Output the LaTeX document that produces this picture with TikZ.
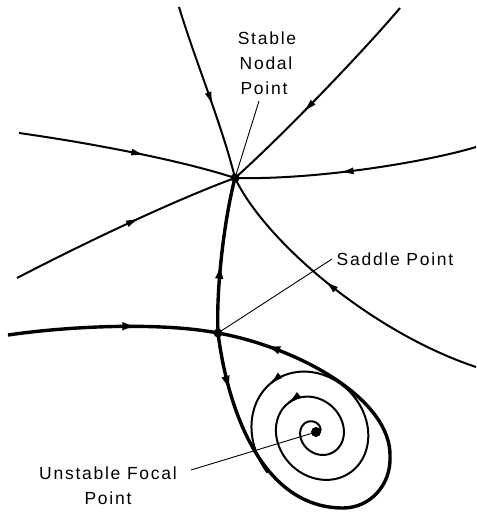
\documentclass[tikz,border=0pt]{standalone}
\usepackage{fontspec}
\newfontfamily\lblfont{Liberation Sans}[LetterSpace=10]
\usetikzlibrary{arrows.meta,decorations.markings}
\begin{document}
\begin{tikzpicture}[x=1pt,y=-1pt,
  hd/.tip={Latex[length=14pt,width=7pt]},
  bighd/.tip={Latex[length=16pt,width=8.5pt]},
  traj/.style={line width=2pt},
  thick traj/.style={line width=3.4pt},
  leader/.style={line width=0.9pt},
  midarrow/.style={postaction={decorate},decoration={markings,mark=at position #1 with {\arrow{hd}}}},
  bigmidarrow/.style={postaction={decorate},decoration={markings,mark=at position #1 with {\arrow{bighd}}}},
  dot/.style={circle,fill=black,inner sep=0pt,minimum size=#1},
  lbl/.style={font=\lblfont\fontsize{17.5}{25}\selectfont,inner sep=0pt,anchor=base}
]
\useasboundingbox (0,0) rectangle (476,516);
% fixed points
\node[dot=9pt] (N) at (235,178) {};
\node[dot=9pt] (S) at (218,333) {};
\node[dot=10pt] (F) at (316,432) {};
% free ends
\coordinate (e1) at (179,7);
\coordinate (e2) at (400,8);
\coordinate (e3) at (476,147);
\coordinate (e4) at (19,133);
\coordinate (e5) at (17,278);
\coordinate (e6) at (476,367);
\coordinate (e7) at (8,335);
% trajectories into the stable node
\draw[traj,midarrow=0.58] (e1) .. controls (195,60) and (222,125) .. (N.center);
\draw[traj,midarrow=0.6] (e2) .. controls (361,54) and (280,138) .. (N.center);
\draw[traj,midarrow=0.57] (e3) .. controls (430,161) and (320,180) .. (N.center);
\draw[traj,midarrow=0.58] (e4) .. controls (90,143) and (180,160) .. (N.center);
\draw[traj,midarrow=0.57] (e5) .. controls (90,240) and (180,198) .. (N.center);
\draw[traj,midarrow=0.56] (e6) .. controls (371,332) and (265,241) .. (N.center);
% separatrices of the saddle
\draw[thick traj,bigmidarrow=0.45] (S.center) .. controls (216,290) and (224,220) .. (N.center);
\draw[thick traj,bigmidarrow=0.62] (e7) .. controls (70,326) and (160,322) .. (S.center);
\coordinate (B) at (343,508);
\coordinate (R) at (390,457);
\draw[thick traj,postaction={decorate},decoration={markings,
    mark=at position 60pt with {\arrow{bighd}},
    mark=at position -48pt with {\arrow{bighd}}}]
  (S.center) .. controls (228,412) and (263,508) .. (B)
  .. controls (370,508) and (391,485) .. (R)
  .. controls (392,400) and (300,348) .. (S.center);
% spiral from the unstable focus
\draw[traj] plot[domain=0:990,samples=500,variable=\t]
  ({316+\t/360*(26.5*cos(\t)*0.643+23*sin(\t)*0.766)},{432+\t/360*(26.5*cos(\t)*0.766-23*sin(\t)*0.643)});
\foreach \a in {545,905}{
  \draw[traj,-{hd}] plot[domain=\a-14:\a,samples=10,variable=\t]
  ({316+\t/360*(26.5*cos(\t)*0.643+23*sin(\t)*0.766)},{432+\t/360*(26.5*cos(\t)*0.766-23*sin(\t)*0.643)});
}
% labels
\node[lbl] (l1) at (267,45) {Stable};
\node[lbl] (l2) at (266,70) {Nodal};
\node[lbl] (l3) at (264,95) {Point};
\node[lbl] (l4) at (395,265) {Saddle Point};
\node[lbl] (l5) at (108,479) {Unstable Focal};
\node[lbl] (l6) at (108,504) {Point};
\coordinate (a1) at (259,101);
\coordinate (a2) at (332,259);
\coordinate (a3) at (191,470);
\draw[leader] (a1) -- (N.center);
\draw[leader] (a2) -- (S.center);
\draw[leader] (a3) -- (F.center);
\end{tikzpicture}
\end{document}
